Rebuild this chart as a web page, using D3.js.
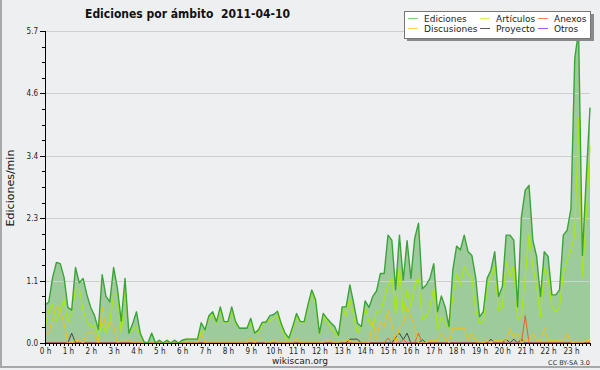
<!DOCTYPE html>
<html lang="es">
<head>
<meta charset="UTF-8">
<title>Ediciones por ámbito 2011-04-10</title>
<script src="https://cdnjs.cloudflare.com/ajax/libs/d3/7.8.5/d3.min.js"></script>
<style>
  body { margin: 0; background: #eeeff0; }
  svg { display: block; font-family: "DejaVu Sans", sans-serif; }
  .axis path, .axis line { stroke: #000; shape-rendering: crispEdges; }
  .axis text { font-family: "DejaVu Sans Condensed", "DejaVu Sans", sans-serif; font-size: 8px; fill: #222; }
  .grid line { stroke: #cfcfcf; shape-rendering: crispEdges; }
</style>
</head>
<body>
<div id="chart"></div>
<script>
// edits per minute, one value every 10 minutes (144 slots)
const ediciones = [
  0.69, 0.75, 1.2, 1.47, 1.45, 1.2, 0.65, 0.6, 1.38, 1.1, 1.18, 0.88,
  0.65, 0.5, 0.25, 1.25, 0.85, 0.75, 1.38, 1.0, 0.4, 1.18, 0.18, 0.35,
  0.57, 0.18, 0.02, 0, 0.18, 0, 0.05, 0, 0.05, 0, 0.05, 0,
  0.05, 0.07, 0.07, 0.07, 0.07, 0.37, 0.24, 0.5, 0.57, 0.39, 0.66, 0.39,
  0.39, 0.66, 0.39, 0.27, 0.27, 0.27, 0.45, 0.18, 0.24, 0.38, 0.38, 0.5,
  0.52, 0.58, 0.35, 0.18, 0.09, 0.3, 0.54, 0.39, 0.39, 0.7, 0.97, 0.79,
  0.18, 0.54, 0.45, 0.37, 0.3, 0.14, 0.66, 0.66, 1.06, 0.72, 0.36, 0.3,
  0.77, 0.65, 0.85, 0.95, 1.27, 1.27, 1.97, 1.88, 0.97, 1.97, 1.15, 1.87,
  1.18, 1.91, 2.19, 0.99, 1.06, 1.18, 1.45, 0.57, 0.86, 0.66, 0.3, 1.33,
  1.77, 1.7, 1.97, 1.67, 1.6, 1.2, 0.48, 0.57, 1.18, 1.33, 1.67, 0.85,
  1.03, 1.97, 1.97, 1.88, 0.66, 2.3, 2.79, 2.88, 1.88, 1.58, 0.85, 1.67,
  1.58, 0.88, 0.88, 0.97, 1.97, 2.06, 2.45, 5.2, 5.7, 1.6, 3.0, 4.3
];
const articulos = [
  0.3, 0.6, 0.7, 0.4, 0.6, 0.79, 0.39, 0.55, 0.98, 0.98, 0.6, 0.39,
  0.3, 0.33, 0.12, 0.36, 0.18, 0.39, 0.88, 0.88, 0.18, 1.0, 0.18, 0.24,
  0.3, 0.15, 0, 0, 0.18, 0, 0.05, 0, 0.05, 0, 0.05, 0,
  0.05, 0.07, 0.07, 0.07, 0.07, 0.2, 0.24, 0.45, 0.52, 0.36, 0.6, 0.36,
  0.36, 0.6, 0.36, 0.27, 0.27, 0.27, 0.36, 0.18, 0.2, 0.33, 0.4, 0.4,
  0.45, 0.5, 0.3, 0.1, 0.05, 0.25, 0.47, 0.36, 0.36, 0.65, 0.94, 0.72,
  0.15, 0.5, 0.4, 0.27, 0.2, 0.12, 0.66, 0.48, 0.8, 0.48, 0.18, 0.3,
  0.66, 0.39, 0.3, 0.57, 0.57, 0.8, 1.06, 1.18, 0.54, 1.39, 0.54, 0.97,
  0.66, 1.06, 1.18, 0.42, 0.48, 0.66, 1.0, 0.24, 0.48, 0.36, 0.27, 0.85,
  1.27, 1.06, 1.39, 1.27, 1.2, 0.6, 0.35, 0.39, 1.03, 1.2, 1.4, 0.6,
  0.66, 1.49, 1.21, 1.42, 0.42, 0.51, 1.2, 2.0, 1.4, 1.03, 0.48, 1.37,
  1.21, 0.66, 0.57, 0.66, 1.27, 1.52, 1.7, 1.97, 4.1, 1.21, 2.3, 3.6
];
const discusiones = [
  0.18, 0.18, 0.45, 0.66, 0.6, 0.35, 0, 0, 0.05, 0.05, 0, 0.18,
  0.18, 0.18, 0, 0.66, 0.27, 0.39, 0.3, 0, 0.06, 0.06, 0.06, 0,
  0, 0, 0, 0, 0, 0, 0, 0, 0, 0, 0, 0,
  0, 0, 0, 0, 0, 0.18, 0, 0, 0, 0, 0, 0,
  0, 0, 0, 0, 0, 0, 0.09, 0, 0.07, 0.07, 0, 0,
  0.07, 0, 0, 0, 0, 0, 0.09, 0, 0, 0, 0, 0,
  0, 0, 0.07, 0.04, 0, 0, 0.07, 0.05, 0.05, 0, 0, 0,
  0, 0, 0.39, 0.07, 0.39, 0.3, 0.6, 0.36, 0, 0.27, 0.36, 0.66,
  0.48, 0.3, 0, 0, 0, 0.05, 0.04, 0.04, 0.18, 0.07, 0, 0.27,
  0.27, 0.27, 0.27, 0.05, 0.18, 0.05, 0, 0, 0.05, 0, 0.05, 0.05,
  0.05, 0.05, 0.26, 0.1, 0.18, 0, 0.05, 0.05, 0.18, 0.05, 0.05, 0.26,
  0.05, 0.05, 0.05, 0.05, 0.05, 0.18, 0.02, 0, 0, 0, 0.05, 0.05
];
const proyecto = [
  0, 0, 0, 0, 0, 0, 0, 0.18, 0, 0, 0, 0,
  0, 0, 0, 0, 0, 0, 0, 0, 0, 0, 0, 0,
  0, 0, 0, 0, 0, 0, 0, 0, 0, 0, 0, 0,
  0, 0, 0, 0, 0, 0, 0, 0, 0, 0, 0, 0,
  0, 0, 0, 0, 0, 0, 0, 0, 0, 0, 0, 0,
  0, 0, 0, 0, 0, 0, 0, 0, 0, 0, 0, 0,
  0, 0, 0, 0, 0, 0, 0, 0, 0.07, 0.07, 0.07, 0,
  0, 0, 0, 0, 0, 0, 0, 0, 0.1, 0.18, 0.06, 0.18,
  0, 0, 0, 0.06, 0, 0, 0, 0, 0, 0, 0, 0,
  0, 0, 0, 0, 0, 0, 0, 0, 0, 0.07, 0, 0,
  0, 0.07, 0, 0.07, 0, 0.07, 0, 0, 0, 0, 0, 0,
  0, 0, 0, 0, 0, 0, 0, 0, 0, 0, 0, 0
];
const anexos = [
  0, 0, 0, 0, 0, 0, 0, 0, 0, 0, 0, 0,
  0, 0, 0, 0, 0, 0, 0, 0, 0, 0, 0, 0,
  0, 0, 0, 0, 0, 0, 0, 0, 0, 0, 0, 0,
  0, 0, 0, 0, 0, 0, 0, 0, 0, 0, 0, 0,
  0, 0, 0, 0, 0, 0, 0, 0, 0, 0, 0, 0,
  0, 0, 0, 0, 0, 0, 0, 0, 0, 0, 0, 0,
  0, 0, 0, 0, 0, 0, 0, 0, 0, 0, 0, 0,
  0, 0, 0, 0, 0, 0, 0.09, 0, 0, 0, 0.07, 0,
  0, 0, 0.18, 0, 0, 0, 0, 0, 0, 0, 0, 0,
  0, 0, 0, 0, 0, 0, 0, 0, 0, 0, 0, 0,
  0, 0, 0, 0, 0, 0, 0.5, 0, 0, 0, 0, 0,
  0, 0, 0, 0, 0, 0, 0, 0, 0, 0, 0, 0
];
const otros = [
  0, 0, 0, 0, 0, 0, 0, 0, 0, 0, 0, 0,
  0, 0, 0, 0, 0, 0, 0, 0, 0, 0, 0, 0,
  0, 0, 0, 0, 0, 0, 0, 0, 0, 0, 0, 0,
  0, 0, 0, 0, 0, 0, 0, 0, 0, 0, 0, 0,
  0, 0, 0, 0, 0, 0, 0, 0, 0, 0, 0, 0,
  0, 0, 0, 0, 0, 0, 0, 0, 0, 0, 0, 0,
  0, 0, 0, 0, 0, 0, 0, 0, 0, 0, 0, 0,
  0, 0, 0, 0, 0, 0, 0, 0, 0, 0, 0, 0,
  0, 0, 0, 0, 0, 0, 0, 0, 0, 0, 0, 0,
  0, 0, 0, 0, 0, 0, 0, 0, 0, 0, 0, 0,
  0, 0, 0, 0, 0, 0, 0, 0, 0, 0, 0, 0,
  0, 0, 0, 0, 0, 0, 0, 0, 0, 0, 0, 0
];
const hourLabels = ["0 h", "1 h", "2 h", "3 h", "4 h", "5 h", "6 h", "7 h", "8 h", "9 h", "10 h", "11 h",
  "12 h", "13 h", "14 h", "15 h", "16 h", "17 h", "18 h", "19 h", "20 h", "21 h", "22 h", "23 h"];
const yTickValues = [0, 1.14, 2.28, 3.42, 4.56, 5.7];
const legendNames = ["Ediciones", "Artículos", "Anexos", "Discusiones", "Proyecto", "Otros"];

const W = 600, H = 370;
const margin = { top: 31, right: 10, bottom: 27, left: 45 };

const svg = d3.select("#chart").append("svg")
  .attr("width", W)
  .attr("height", H);

// frame edges (left and bottom only)
svg.append("line").attr("x1", 1).attr("x2", 1).attr("y1", 0).attr("y2", H - 3)
  .attr("stroke", "#a8a8a8").attr("stroke-width", 2);
svg.append("line").attr("x1", 0).attr("x2", W).attr("y1", H - 3).attr("y2", H - 3)
  .attr("stroke", "#a8a8a8").attr("stroke-width", 2);

const x = d3.scaleLinear().domain([0, ediciones.length - 1]).range([margin.left, W - margin.right]);
const y = d3.scaleLinear().domain([0, 5.7]).range([H - margin.bottom, margin.top]);

// area of total edits
const area = d3.area()
  .x((d, i) => x(i))
  .y0(y(0))
  .y1(d => y(d));
svg.append("path")
  .datum(ediciones)
  .attr("fill", "#9ecb9c")
  .attr("d", area);

// horizontal grid
svg.append("g")
  .attr("class", "grid")
  .attr("transform", `translate(${margin.left},0)`)
  .call(d3.axisLeft(y).tickValues(yTickValues.slice(1)).tickSize(-(W - margin.right - margin.left)).tickFormat(""))
  .call(g => g.select(".domain").remove());

const line = d3.line()
  .x((d, i) => x(i))
  .y(d => y(d));

const lines = [
  { data: otros, color: "#9b4ee8", width: 1 },
  { data: proyecto, color: "#444444", width: 1 },
  { data: anexos, color: "#e8602a", width: 1 },
  { data: discusiones, color: "#f0c21a", width: 1 },
  { data: articulos, color: "#a8e812", width: 1.2 },
  { data: ediciones, color: "#3aa43a", width: 1.4 }
];
lines.forEach(s => {
  svg.append("path")
    .datum(s.data)
    .attr("fill", "none")
    .attr("stroke", s.color)
    .attr("stroke-width", s.width)
    .attr("stroke-linejoin", "round")
    .attr("d", line);
});

// axes
svg.append("g")
  .attr("class", "axis")
  .attr("transform", `translate(${margin.left},0)`)
  .call(d3.axisLeft(y).tickValues(d3.range(0, 21).map(k => k * 0.285)).tickSize(3).tickFormat(""));
svg.append("g")
  .attr("class", "axis")
  .attr("transform", `translate(${margin.left},0)`)
  .call(d3.axisLeft(y).tickValues(yTickValues).tickSize(5).tickSizeOuter(0).tickFormat(d3.format(".1f")))
  .call(g => g.selectAll("text").attr("dx", "1px"));

svg.append("g")
  .attr("class", "axis")
  .attr("transform", `translate(0,${y(0)})`)
  .call(d3.axisBottom(x).tickValues(d3.range(0, ediciones.length)).tickSize(3).tickSizeOuter(0).tickFormat(""));
svg.append("g")
  .attr("class", "axis")
  .attr("transform", `translate(0,${y(0)})`)
  .call(d3.axisBottom(x).tickValues(d3.range(0, ediciones.length, 6)).tickSize(3).tickSizeOuter(0)
    .tickFormat(i => hourLabels[i / 6]))
  .call(g => g.selectAll("text").attr("dy", "0.6em"));

// titles
svg.append("text")
  .attr("x", 85).attr("y", 18)
  .attr("font-weight", "bold")
  .attr("font-size", 13)
  .attr("textLength", 205)
  .attr("lengthAdjust", "spacingAndGlyphs")
  .attr("fill", "#111")
  .style("white-space", "pre")
  .text("Ediciones por ámbito  2011-04-10");

svg.append("text")
  .attr("transform", "translate(14,188) rotate(-90)")
  .attr("text-anchor", "middle")
  .attr("font-size", 11)
  .attr("fill", "#111")
  .text("Ediciones/min");

svg.append("text")
  .attr("x", 300).attr("y", 364)
  .attr("text-anchor", "middle")
  .attr("font-size", 9)
  .attr("fill", "#222")
  .text("wikiscan.org");

svg.append("text")
  .attr("x", 590).attr("y", 365)
  .attr("text-anchor", "end")
  .attr("font-size", 6.5)
  .attr("fill", "#333")
  .text("CC BY-SA 3.0");

// legend
const legendColors = ["#86d086", "#d2f266", "#f0885a", "#f8d456", "#5a5a5a", "#a45cee"];
const legend = svg.append("g");
legend.append("rect")
  .attr("x", 407).attr("y", 14).attr("width", 187).attr("height", 27)
  .attr("fill", "#8a8a8a");
legend.append("rect")
  .attr("x", 404.5).attr("y", 11.5).attr("width", 186).attr("height", 27)
  .attr("fill", "#fff").attr("stroke", "#777");
const colX = [408, 480, 538];
legendNames.forEach((name, k) => {
  const cx = colX[k % 3], cy = k < 3 ? 18.5 : 28.5;
  legend.append("line")
    .attr("x1", cx).attr("x2", cx + 10).attr("y1", cy).attr("y2", cy)
    .attr("stroke", legendColors[k]).attr("stroke-width", 1);
  legend.append("text")
    .attr("x", cx + 16).attr("y", cy + 3.5)
    .attr("font-size", 9)
    .attr("fill", "#222")
    .text(name);
});
</script>
</body>
</html>
